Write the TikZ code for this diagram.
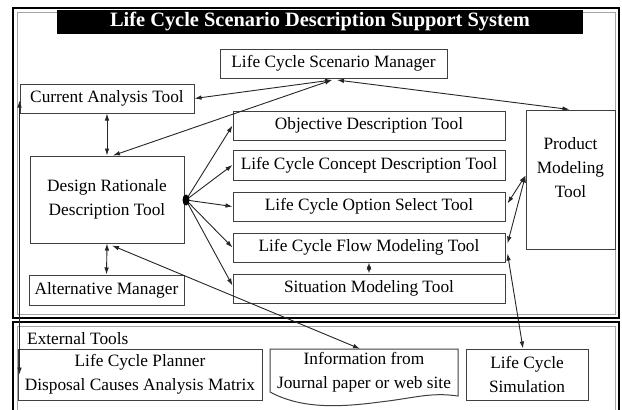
\documentclass[tikz,border=0pt]{standalone}
\usepackage{fontspec}
\setmainfont{Liberation Serif}
\usetikzlibrary{arrows.meta,calc}
\begin{document}
\begin{tikzpicture}[x=1pt,y=-1pt,
  txt/.style={font=\fontsize{17.3}{24}\selectfont,align=center,inner sep=0pt},
  box/.style={txt,draw=black!75,line width=1pt},
  tip/.style={Latex[length=7pt,width=4.6pt]},
  link/.style={line width=0.9pt,draw=black!85,{Latex[length=7pt,width=4.6pt]}-{Latex[length=7pt,width=4.6pt]}},
  oneway/.style={line width=0.9pt,draw=black!85,-{Latex[length=7pt,width=4.6pt]}},
  frame/.style={draw=black,line width=1.3pt},
  innerframe/.style={draw=black!35,line width=0.6pt},
]
\useasboundingbox (0,0) rectangle (622,410);
\fill[white] (0,0) rectangle (622,410);

% system frame and the external tools frame
\draw[innerframe] (17,12) rectangle (615,314);
\draw[frame] (13,8) rectangle (619,318);
\draw[innerframe] (17,326) rectangle (615,416);
\draw[frame] (13,322) rectangle (619,420);

% title bar
\node[fill=black,text=white,minimum width=526,minimum height=24,inner sep=0pt,
      font=\fontsize{20.4}{24}\selectfont\bfseries] (title) at (320,22)
      {Life Cycle Scenario Description Support System};

% tools inside the system
\node[box,minimum width=227,minimum height=29] (lcsm) at (333.5,63.5) {Life Cycle Scenario Manager};
\node[box,minimum width=174,minimum height=29] (cat) at (107,98.5) {Current Analysis Tool};
\node[box,minimum width=272,minimum height=29] (obj) at (369,125.5) {Objective Description Tool};
\node[box,minimum width=272,minimum height=30] (con) at (369,165) {Life Cycle Concept Description Tool};
\node[box,minimum width=272,minimum height=29] (opt) at (369,206.5) {Life Cycle Option Select Tool};
\node[box,minimum width=272,minimum height=29] (flow) at (369,247.5) {Life Cycle Flow Modeling Tool};
\node[box,minimum width=272,minimum height=29] (sit) at (369,288.5) {Situation Modeling Tool};
\node[box,minimum width=154,minimum height=87] (drd) at (107,199.5) {Design Rationale\\Description Tool};
\node[box,minimum width=155,minimum height=30] (alt) at (106.5,290) {Alternative Manager};
\node[box,minimum width=89,minimum height=139] (pmt) at (570.5,179.5) {};
\node[txt] (pmtlabel) at (570.5,168) {Product\\Modeling\\Tool};

% external tools
\node[txt,anchor=west] (ext) at (27,339) {External Tools};
\node[box,minimum width=244,minimum height=51] (planner) at (140,374.5)
      {Life Cycle Planner\\Disposal Causes Analysis Matrix};
\node[txt,minimum width=188,minimum height=46] (info) at (364,372)
      {Information from\\Journal paper or web site};
\draw[draw=black!75,line width=1pt]
  (270,349) -- (458,349) -- (458,396)
  .. controls (430,392) and (415,398) .. (380,402)
  .. controls (335,408) and (300,408) .. (270,392) -- cycle;
\node[box,minimum width=122,minimum height=51] (sim) at (527,374.5) {Life Cycle\\Simulation};

% junction points
\coordinate (mgrL) at (332,80);
\coordinate (mgrR) at (337,80);
\coordinate (drdhub) at (186,200);
\coordinate (pmthub) at ($(pmt.west)+(0,-4)$);

% connectors
\draw[link] (cat.east) -- (mgrL);
\draw[link] ($(drd.north)+(6,0)$) -- (mgrL);
\draw[link] (mgrR) -- ($(pmt.north)+(-1,0)$);
\draw[link] (cat.south) -- (drd.north);
\draw[link] (drd.south) -- (alt.north);
\draw[link] ($(drd.south)+(5,2)$) -- ($(info.north)+(-4,0)$);
\foreach \t in {obj,con,opt,flow}
  \draw[oneway] (drdhub) -- (\t.west);
\draw[oneway] (drdhub) -- ($(sit.west)+(0,-3)$);
\fill[black] (drdhub) ellipse (3.5 and 5.5);
\draw[link] (flow.south) -- (sit.north);
\draw[link] (pmthub) -- ($(opt.east)+(2,-3)$);
\draw[link] (pmthub) -- ($(flow.east)+(2,-4)$);
\draw[link] ($(flow.east)+(2,6)$) -- ($(sim.north)+(-4,0)$);
\draw[link] ($(cat.west)+(0,2)$) -- (cat.west |- planner.west);
\end{tikzpicture}
\end{document}
